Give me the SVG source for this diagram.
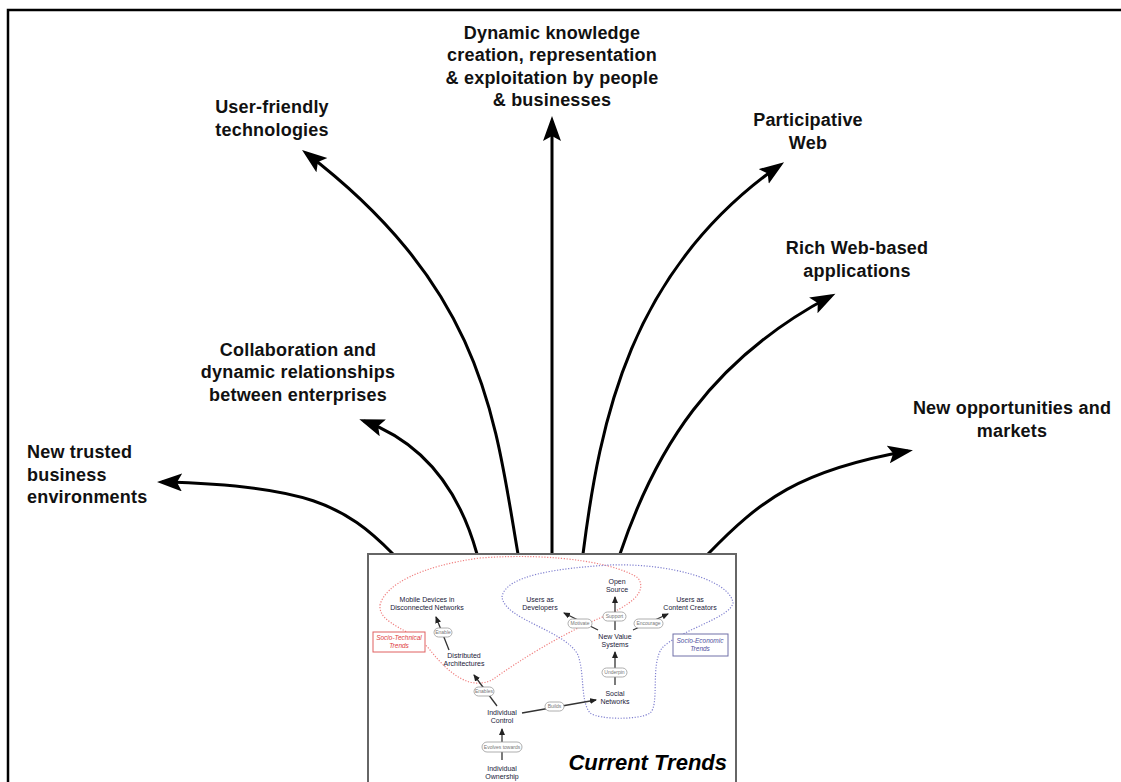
<svg xmlns="http://www.w3.org/2000/svg" width="1121" height="782" viewBox="0 0 1121 782">
  <style>
    .lbl { font-family: "Liberation Sans", Arial, sans-serif; font-weight: bold; font-size: 18px; letter-spacing: 0.2px; fill: #111; }
    .mid { text-anchor: middle; }
    .trend { fill: none; stroke: #000; stroke-width: 3; marker-end: url(#head); }
    .sm { font-family: "Liberation Sans", Arial, sans-serif; font-size: 7px; fill: #1a1a3a; text-anchor: middle; }
    .pill { fill: #fff; stroke: #999; stroke-width: 0.8; }
    .pilltxt { font-family: "Liberation Sans", Arial, sans-serif; font-size: 5px; fill: #777; text-anchor: middle; }
    .link { stroke: #333; stroke-width: 1.3; fill: none; marker-end: url(#small); }
  </style>
  <defs>
    <marker id="head" markerUnits="userSpaceOnUse" markerWidth="26" markerHeight="20" refX="20" refY="9" orient="auto">
      <path d="M0,0 L25,9 L0,18 L5,9 z" fill="#000"/>
    </marker>
    <marker id="small" markerUnits="userSpaceOnUse" markerWidth="8" markerHeight="7" refX="6" refY="3" orient="auto">
      <path d="M0,0 L7,3 L0,6 z" fill="#222"/>
    </marker>
  </defs>

  <!-- frame -->
  <path d="M8,782 V10 H1121" fill="none" stroke="#000" stroke-width="2.5"/>

  <!-- trend arrows radiating from the inset -->
  <g id="connectors">
    <path class="trend" d="M393,554 C345,505 305,485 162,482"/>
    <path class="trend" d="M477,554 C462,500 430,445 364,421"/>
    <path class="trend" d="M518,554 C495,420 485,290 306,153"/>
    <path class="trend" d="M552,554 V121"/>
    <path class="trend" d="M583,554 C600,420 630,270 780,165"/>
    <path class="trend" d="M620,554 C655,450 710,360 831,296"/>
    <path class="trend" d="M708,554 C760,500 800,470 908,451"/>
  </g>

  <!-- outcome labels -->
  <g id="dynamic-knowledge">
    <text class="lbl mid" x="552" y="39">Dynamic knowledge</text>
    <text class="lbl mid" x="552" y="61">creation, representation</text>
    <text class="lbl mid" x="552" y="84">&amp; exploitation by people</text>
    <text class="lbl mid" x="552" y="106">&amp; businesses</text>
  </g>
  <g id="user-friendly">
    <text class="lbl mid" x="272" y="113">User-friendly</text>
    <text class="lbl mid" x="272" y="136">technologies</text>
  </g>
  <g id="participative-web">
    <text class="lbl mid" x="808" y="126">Participative</text>
    <text class="lbl mid" x="808" y="149">Web</text>
  </g>
  <g id="rich-web">
    <text class="lbl mid" x="857" y="254">Rich Web-based</text>
    <text class="lbl mid" x="857" y="277">applications</text>
  </g>
  <g id="collaboration">
    <text class="lbl mid" x="298" y="356">Collaboration and</text>
    <text class="lbl mid" x="298" y="378">dynamic relationships</text>
    <text class="lbl mid" x="298" y="401">between enterprises</text>
  </g>
  <g id="new-opportunities">
    <text class="lbl mid" x="1012" y="414">New opportunities and</text>
    <text class="lbl mid" x="1012" y="437">markets</text>
  </g>
  <g id="trusted-business">
    <text class="lbl" x="27" y="458">New trusted</text>
    <text class="lbl" x="27" y="481">business</text>
    <text class="lbl" x="27" y="503">environments</text>
  </g>

  <!-- inset: current trends -->
  <g id="current-trends">
    <rect x="368" y="554" width="368" height="240" fill="#fff" stroke="#666" stroke-width="2"/>

    <!-- groupings -->
    <path d="M380,605 C385,585 420,566 480,558 C560,552 620,565 638,578 C648,592 630,606 600,618 C560,635 520,660 492,680 C470,690 450,675 430,650 C415,630 378,625 380,605 Z"
          fill="none" stroke="#f08080" stroke-width="1.2" stroke-dasharray="1.2 1.6"/>
    <path d="M502,597 C505,575 560,568 610,565 C670,563 730,580 733,603 C730,618 680,630 662,648 C650,665 660,705 650,713 C640,720 600,720 590,713 C580,700 585,675 578,655 C565,630 505,620 502,597 Z"
          fill="none" stroke="#8080d0" stroke-width="1.2" stroke-dasharray="1.2 1.6"/>

    <rect x="373" y="632" width="52" height="20" fill="#fff" stroke="#e06060" stroke-width="1"/>
    <text class="sm" x="399" y="640" style="fill:#e04040;font-style:italic;font-size:6.5px">Socio-Technical</text>
    <text class="sm" x="399" y="648" style="fill:#e04040;font-style:italic;font-size:6.5px">Trends</text>
    <rect x="673" y="634" width="55" height="22" fill="#fff" stroke="#7070a8" stroke-width="1"/>
    <text class="sm" x="700" y="643" style="fill:#5050a0;font-style:italic;font-size:6.5px">Socio-Economic</text>
    <text class="sm" x="700" y="651" style="fill:#5050a0;font-style:italic;font-size:6.5px">Trends</text>

    <!-- relations -->
    <line class="link" x1="449" y1="650" x2="436" y2="617"/>
    <line class="link" x1="497" y1="706" x2="474" y2="675"/>
    <line class="link" x1="502" y1="760" x2="502" y2="729"/>
    <line class="link" x1="522" y1="713" x2="596" y2="700"/>
    <line class="link" x1="615" y1="685" x2="615" y2="652"/>
    <line class="link" x1="615" y1="630" x2="615" y2="597"/>
    <line class="link" x1="598" y1="630" x2="564" y2="613"/>
    <line class="link" x1="633" y1="630" x2="668" y2="614"/>

    <rect class="pill" x="434" y="628" width="18" height="9" rx="4.5"/>
    <text class="pilltxt" x="443" y="634.2">Enable</text>
    <rect class="pill" x="474" y="687" width="20" height="9" rx="4.5"/>
    <text class="pilltxt" x="484" y="693.2">Enables</text>
    <rect class="pill" x="482" y="742" width="40" height="10" rx="5"/>
    <text class="pilltxt" x="502" y="748.7">Evolves towards</text>
    <rect class="pill" x="545" y="702" width="19" height="9" rx="4.5"/>
    <text class="pilltxt" x="554.5" y="708.2">Builds</text>
    <rect class="pill" x="602" y="668" width="25" height="9" rx="4.5"/>
    <text class="pilltxt" x="614.5" y="674.2">Underpin</text>
    <rect class="pill" x="603" y="612" width="23" height="9" rx="4.5"/>
    <text class="pilltxt" x="614.5" y="618.2">Support</text>
    <rect class="pill" x="568" y="619" width="24" height="9" rx="4.5"/>
    <text class="pilltxt" x="580" y="625.2">Motivate</text>
    <rect class="pill" x="634" y="619" width="29" height="9" rx="4.5"/>
    <text class="pilltxt" x="648.5" y="625.2">Encourage</text>

    <!-- concepts -->
    <text class="sm" x="427" y="602">Mobile Devices in</text>
    <text class="sm" x="427" y="610">Disconnected Networks</text>
    <text class="sm" x="464" y="658">Distributed</text>
    <text class="sm" x="464" y="666">Architectures</text>
    <text class="sm" x="502" y="715">Individual</text>
    <text class="sm" x="502" y="723">Control</text>
    <text class="sm" x="502" y="771">Individual</text>
    <text class="sm" x="502" y="779">Ownership</text>
    <text class="sm" x="615" y="696">Social</text>
    <text class="sm" x="615" y="704">Networks</text>
    <text class="sm" x="615" y="639">New Value</text>
    <text class="sm" x="615" y="647">Systems</text>
    <text class="sm" x="617" y="584">Open</text>
    <text class="sm" x="617" y="592">Source</text>
    <text class="sm" x="540" y="602">Users as</text>
    <text class="sm" x="540" y="610">Developers</text>
    <text class="sm" x="690" y="602">Users as</text>
    <text class="sm" x="690" y="610">Content Creators</text>

    <text x="727" y="770" text-anchor="end" style="font-family:'Liberation Sans',Arial,sans-serif;font-weight:bold;font-style:italic;font-size:22px;fill:#000">Current Trends</text>
  </g>
</svg>
